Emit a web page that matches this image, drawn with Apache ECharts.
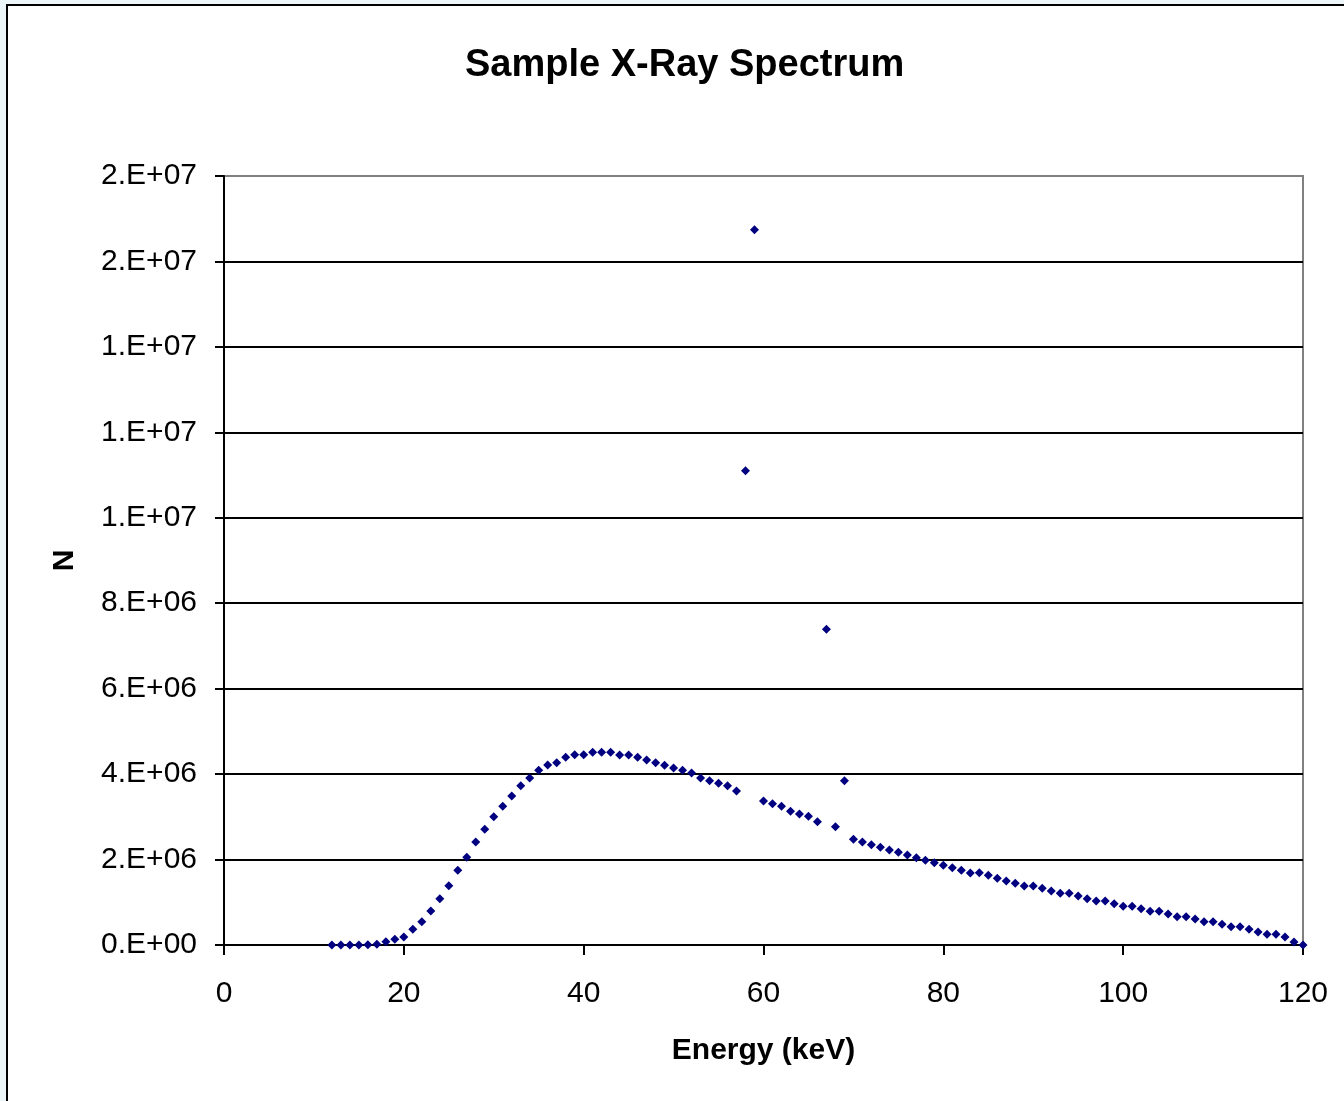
<!DOCTYPE html>
<html>
<head>
<meta charset="utf-8">
<title>Sample X-Ray Spectrum</title>
<script src="https://cdn.jsdelivr.net/npm/echarts@6/dist/echarts.min.js"></script>
<style>
	html, body { margin: 0; padding: 0; background: #ecf5f7; overflow: hidden; }
	#main { width: 1344px; height: 1101px; }
</style>
</head>
<body>
<div id="main"></div>
<script>
// photon energy (keV)
var energy = [
	12, 13, 14, 15, 16, 17, 18, 19, 20, 21, 22, 23, 24, 25, 26, 27, 28, 29, 30,
	31, 32, 33, 34, 35, 36, 37, 38, 39, 40, 41, 42, 43, 44, 45, 46, 47, 48, 49, 50,
	51, 52, 53, 54, 55, 56, 57, 58, 59, 60, 61, 62, 63, 64, 65, 66, 67, 68, 69, 70,
	71, 72, 73, 74, 75, 76, 77, 78, 79, 80, 81, 82, 83, 84, 85, 86, 87, 88, 89, 90,
	91, 92, 93, 94, 95, 96, 97, 98, 99, 100, 101, 102, 103, 104, 105, 106, 107, 108, 109, 110,
	111, 112, 113, 114, 115, 116, 117, 118, 119, 120
];
// counts N for each energy
var counts = [
	0, 0, 0, 0, 5000, 15000, 77000, 133000, 187000, 367000, 546000, 796000, 1084000, 1388000, 1748000, 2053000, 2411000, 2708000, 3003000,
	3246000, 3488000, 3729000, 3909000, 4089000, 4213000, 4267000, 4393000, 4454000, 4454000, 4510000, 4510000, 4510000, 4447000, 4447000, 4393000, 4330000, 4267000, 4206000, 4143000,
	4089000, 4026000, 3909000, 3846000, 3785000, 3729000, 3605000, 11100000, 16740000, 3371000, 3308000, 3246000, 3129000, 3066000, 3012000, 2886000, 7390000, 2770000, 3846000, 2474000,
	2411000, 2348000, 2287000, 2224000, 2170000, 2107000, 2043000, 1983000, 1927000, 1866000, 1809000, 1748000, 1685000, 1690000, 1630000, 1560000, 1498000, 1443000, 1381000, 1381000,
	1326000, 1264000, 1209000, 1209000, 1147000, 1084000, 1030000, 1030000, 967000, 905000, 905000, 851000, 788000, 788000, 726000, 663000, 663000, 609000, 546000, 546000,
	484000, 429000, 429000, 367000, 304000, 250000, 250000, 187000, 70000, 0
];

var yTicks = [0, 2e6, 4e6, 6e6, 8e6, 1e7, 1.2e7, 1.4e7, 1.6e7, 1.8e7];
var xTicks = [0, 20, 40, 60, 80, 100, 120];

// Excel style "0.E+00"
function sciLabel(v){
	if(v == 0) return '0.E+00';
	var e = Math.floor(Math.log10(v));
	var m = Math.round(v / Math.pow(10, e));
	if(m >= 10){ m = 1; e += 1; }
	return m + '.E+' + (e < 10 ? '0' + e : e);
}

var points = [];
for(var i = 0; i < energy.length; i++){
	points.push([energy[i], counts[i]]);
}

var chart = echarts.init(document.getElementById('main'));
// top gridline sits on the grey plot border
var splitColors = [];
for(var j = 0; j < yTicks.length - 1; j++) splitColors.push('#000');
splitColors.push('#808080');

var option = {
	backgroundColor: '#ecf5f7',
	animation: false,
	textStyle: { fontFamily: 'Liberation Sans, Arial, sans-serif' },
	graphic: [{
		type: 'rect',
		z: -10,
		shape: { x: 7, y: 5, width: 1400, height: 1200 },
		style: { fill: '#fff', stroke: '#000', lineWidth: 2 }
	}],
	title: {
		text: 'Sample X-Ray Spectrum',
		left: 465,
		top: 47,
		padding: 0,
		textStyle: { fontSize: 38, fontWeight: 'bold', color: '#000', fontFamily: 'Liberation Sans, Arial, sans-serif' }
	},
	grid: {
		left: 224,
		top: 176,
		right: 41,
		bottom: 156,
		show: true,
		backgroundColor: 'transparent',
		borderColor: '#808080',
		borderWidth: 2
	},
	xAxis: {
		type: 'value',
		min: xTicks[0],
		max: xTicks[xTicks.length - 1],
		interval: 20,
		name: 'Energy (keV)',
		nameLocation: 'middle',
		nameGap: 91,
		nameTextStyle: { fontSize: 30, fontWeight: 'bold', color: '#000' },
		axisLine: { lineStyle: { color: '#000', width: 2 } },
		axisTick: { inside: false, length: 10, lineStyle: { color: '#000', width: 2 } },
		axisLabel: { fontSize: 30, color: '#000', margin: 34 },
		splitLine: { show: false }
	},
	yAxis: {
		type: 'value',
		min: yTicks[0],
		max: yTicks[yTicks.length - 1],
		interval: 2e6,
		name: 'N',
		nameLocation: 'middle',
		nameGap: 144,
		nameTextStyle: { fontSize: 30, fontWeight: 'bold', color: '#000' },
		axisLine: { show: true, lineStyle: { color: '#000', width: 2 } },
		axisTick: { show: true, inside: false, length: 9, lineStyle: { color: '#000', width: 2 } },
		axisLabel: { fontSize: 30, color: '#000', margin: 27, formatter: sciLabel },
		splitLine: { show: true, lineStyle: { color: splitColors, width: 2 } }
	},
	series: [{
		type: 'scatter',
		data: points,
		symbol: 'diamond',
		symbolSize: 9,
		itemStyle: { color: '#000080', opacity: 1 }
	}]
};
chart.setOption(option);
</script>
</body>
</html>
